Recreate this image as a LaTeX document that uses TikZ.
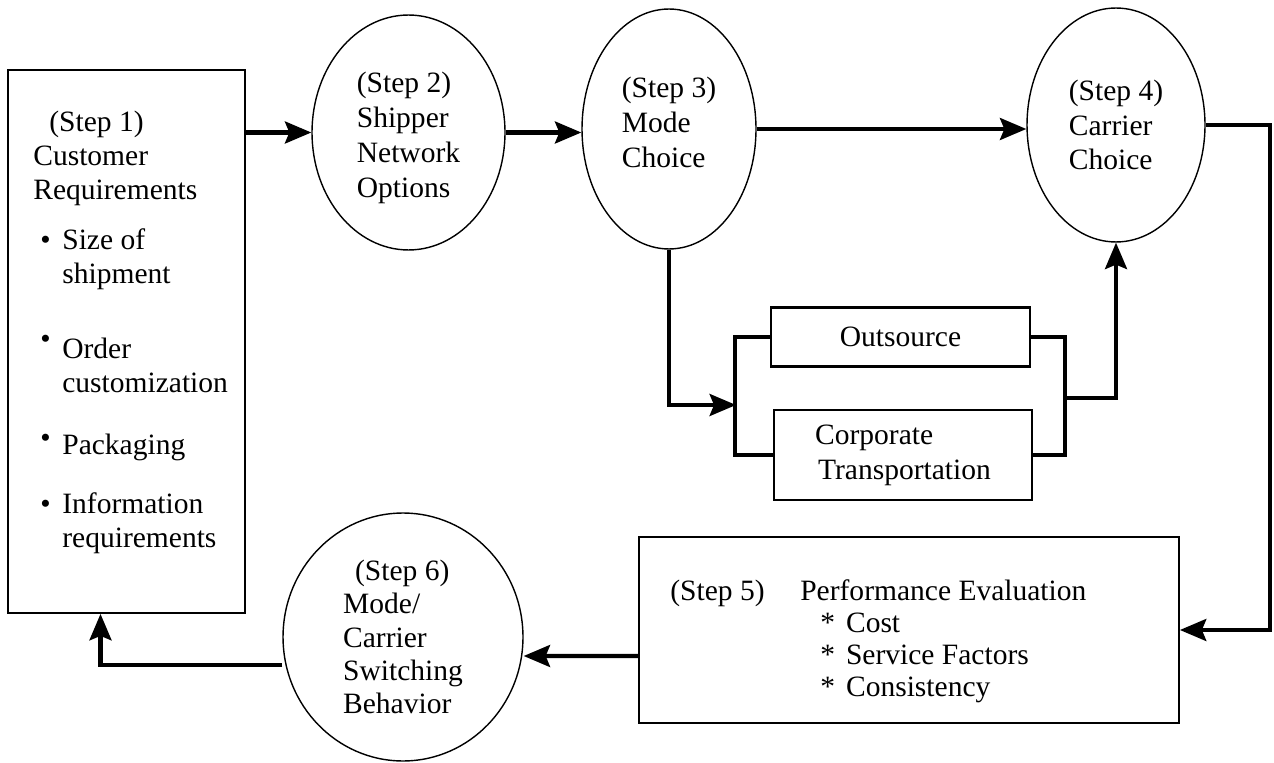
\documentclass[tikz,border=0pt]{standalone}
\usepackage{fontspec}
\setmainfont{Liberation Serif}
\usetikzlibrary{shapes.geometric, arrows.meta}
\newcommand\diagfont{\fontsize{16.8}{19.8}\selectfont}
\tikzset{
  stepbox/.style={rectangle, draw, line width=1.1pt, inner sep=0pt},
  stepoval/.style={ellipse, draw, line width=0.8pt, inner sep=0pt,
    align=left, font=\diagfont},
  optbox/.style={rectangle, draw, line width=1.3pt, inner sep=0pt,
    align=left, font=\diagfont},
  steptext/.style={inner sep=0pt, font=\diagfont},
  arrow/.style={-{Stealth[length=15pt, width=12.5pt, inset=2.5pt]}, line width=2.3pt},
  link/.style={line width=2.3pt},
}

\begin{document}
\begin{tikzpicture}[x=0.02cm, y=-0.02cm]
\useasboundingbox (0,0) rectangle (1274,763);

% Steps
\node[stepbox, minimum width=4.74cm, minimum height=10.86cm] (req) at (126.5,341.5) {};
\node[steptext, font=\fontsize{16.8}{19.3}\selectfont, anchor=base west] (reqtext) at (33,132) {%
  \begin{tabular}[t]{@{}p{0.58cm}@{}l@{}}
  \multicolumn{2}{@{}l@{}}{\hspace{0.32cm}(Step 1)}\\
  \multicolumn{2}{@{}l@{}}{Customer}\\
  \multicolumn{2}{@{}l@{}}{Requirements}\\[0.32cm]
  \hspace{0.14cm}\textbullet & Size of\\
   & shipment\\[0.82cm]
  \hspace{0.14cm}\raisebox{0.2cm}{\textbullet} & Order\\
   & customization\\[0.56cm]
  \hspace{0.14cm}\raisebox{0.14cm}{\textbullet} & Packaging\\[0.5cm]
  \hspace{0.14cm}\textbullet & Information\\
   & requirements
  \end{tabular}};
\node[stepoval, minimum width=3.86cm, minimum height=4.7cm] (ship) at (408.5,132.5)
  {\rule{0pt}{0.62cm}(Step 2)\\Shipper\\Network\\Options};
\node[stepoval, minimum width=3.48cm, minimum height=4.8cm] (mode) at (669,129)
  {(Step 3)\\Mode\\Choice\rule[-0.28cm]{0pt}{0pt}};
\node[stepoval, minimum width=3.56cm, minimum height=4.68cm] (carrier) at (1116,125)
  {(Step 4)\\Carrier\\Choice};
\node[optbox, minimum width=5.18cm, minimum height=1.18cm] (out) at (900.5,337) {Outsource};
\node[optbox, minimum width=5.16cm, minimum height=1.8cm] (corp) at (903,455)
  {Corporate\\\hspace{0.06cm}Transportation};
\node[stepbox, minimum width=10.8cm, minimum height=3.72cm] (perf) at (909,630) {};
\node[steptext, font=\fontsize{16.8}{18.4}\selectfont, anchor=base west] (perftext) at (670,600) {%
  \begin{tabular}[t]{@{}p{2.6cm}@{}l@{}}
  (Step 5) & Performance Evaluation\\
   & \hspace{0.4cm}*\hspace{0.22cm}Cost\\
   & \hspace{0.4cm}*\hspace{0.22cm}Service Factors\\
   & \hspace{0.4cm}*\hspace{0.22cm}Consistency
  \end{tabular}};
\node[stepoval, font=\fontsize{16.8}{19}\selectfont, minimum width=4.8cm, minimum height=4.96cm] (switch) at (403,637)
  {\hspace{0.24cm}(Step 6)\\Mode/\\Carrier\\Switching\\Behavior};

% Turning points
\coordinate (joinL) at (736,405);
\coordinate (joinR) at (1064,398);
\coordinate (turnR) at (1270,0);

% Arrows
\draw[arrow] (req.east |- ship.west) -- (ship.west);
\draw[arrow] (ship.east) -- (ship.east -| mode.west);
\draw[arrow] (mode.east) -- (mode.east -| carrier.west);
\draw[arrow] (mode.south) |- (joinL);
\draw[link] (out.west) -- ++(-35,0) |- (corp.west);
\draw[link] (out.east) -- ++(34,0) |- (corp.east);
\draw[arrow] (joinR) -| (carrier.south);
\draw[arrow] (carrier.east) -- (carrier.east -| turnR) |- (perf.east);
\draw[arrow] ([yshift=-0.52cm]perf.west) -- ([yshift=-0.38cm]switch.east);
\draw[arrow] ([yshift=-0.56cm]switch.west) -| ([xshift=-0.52cm]req.south);

\end{tikzpicture}
\end{document}
